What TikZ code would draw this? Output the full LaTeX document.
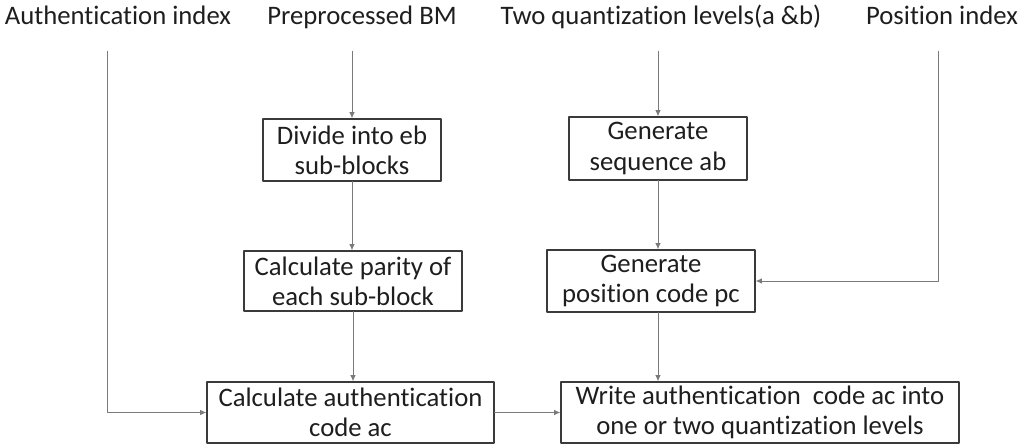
\documentclass[tikz,border=0pt]{standalone}
\usepackage{fontspec}
\setmainfont{Carlito}[Ligatures=NoCommon]
\usetikzlibrary{arrows.meta}
\definecolor{txtcol}{HTML}{1E1E1E}
\definecolor{boxcol}{HTML}{3A3A3A}
\definecolor{wirecol}{HTML}{7A7A7A}
\begin{document}
\begin{tikzpicture}[line cap=round, line join=round, font=\fontsize{19}{21.5}\selectfont, text=txtcol, >={Latex[length=4.5pt,width=4pt]}]
	\tikzset{box/.style={draw=boxcol, line width=0.9pt, align=center, inner sep=0pt},
		inlabel/.style={anchor=base, inner xsep=0pt, inner ysep=18.5pt, text depth=0pt},
		wire/.style={->, draw=wirecol, line width=0.7pt}}
	\useasboundingbox (0,0) rectangle (25.6,11.15);
	% inputs along the top
	\node[inlabel] (auth) at (2.95,10.525) {Authentication index};
	\node[inlabel] (prep) at (9.05,10.525) {Preprocessed BM};
	\node[inlabel] (quant) at (16.525,10.525) {Two quantization levels(a \&b)};
	\node[inlabel] (pos) at (23.55,10.525) {Position index};
	% left column
	\node[box, minimum width=4.45cm, minimum height=1.55cm] (divide) at (8.8,7.4) {Divide into eb\\sub-blocks};
	\node[box, minimum width=5.45cm, minimum height=1.5cm] (parity) at (8.825,4.125) {Calculate parity of\\each sub-block};
	\node[box, minimum width=7.175cm, minimum height=1.525cm] (calcac) at (8.7625,0.8375) {Calculate authentication\\code ac};
	% right column
	\node[box, minimum width=4.45cm, minimum height=1.575cm] (genseq) at (16.45,7.4375) {Generate\\sequence ab};
	\node[box, minimum width=5.2cm, minimum height=1.55cm] (genpc) at (16.275,4.125) {Generate\\position code pc};
	\node[box, minimum width=9.95cm, minimum height=1.525cm] (write) at (19.0,0.8375) {Write authentication\ \ code ac into\\one or two quantization levels};
	% connectors
	\draw[wire] ([xshift=-0.275cm]auth.south) |- (calcac.west);
	\draw[wire] (prep.south -| divide.north) -- (divide.north);
	\draw[wire] (divide.south) -- (divide.south |- parity.north);
	\draw[wire] (parity.south) -- (parity.south |- calcac.north);
	\draw[wire] (quant.south -| genseq.north) -- (genseq.north);
	\draw[wire] (genseq.south) -- (genseq.south |- genpc.north);
	\draw[wire] ([xshift=-0.1cm]pos.south) |- (genpc.east);
	\draw[wire] (genseq.south |- genpc.south) -- (genseq.south |- write.north);
	\draw[wire] (calcac.east) -- (write.west);
\end{tikzpicture}
\end{document}
